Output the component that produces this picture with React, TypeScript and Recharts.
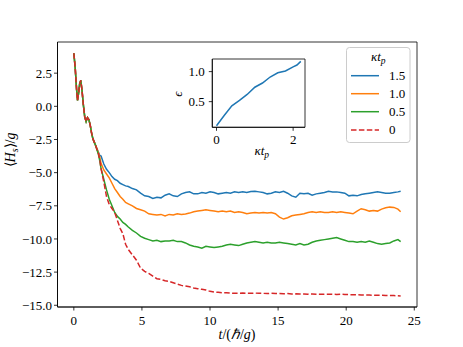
import React from 'react';
import { LineChart, Line, XAxis, YAxis, ReferenceArea } from 'recharts';

// ---------- data ----------
const TIME = [
  0, 0.1, 0.2, 0.27, 0.35, 0.43, 0.51, 0.6, 0.7, 0.8, 0.9, 1.0, 1.1, 1.2, 1.3, 1.4, 1.5, 1.6, 1.7, 1.8, 1.9,
  2.0, 2.2, 2.4, 2.6, 2.8, 3.0, 3.2, 3.4, 3.6, 3.8,
  4.0, 4.3, 4.6, 4.9, 5.2, 5.5, 5.8, 6.1, 6.4, 6.7,
  7.0, 7.3, 7.6, 7.9, 8.2, 8.5, 8.8, 9.1, 9.4, 9.7,
  10.0, 10.3, 10.6, 10.9, 11.2, 11.5, 11.8, 12.1, 12.4, 12.7,
  13.0, 13.3, 13.6, 13.9, 14.2, 14.5, 14.8, 15.1, 15.4, 15.7,
  16.0, 16.3, 16.6, 16.9, 17.2, 17.5, 17.8, 18.1, 18.4, 18.7,
  19.0, 19.3, 19.6, 19.9, 20.2, 20.5, 20.8, 21.1, 21.4, 21.7,
  22.0, 22.3, 22.6, 22.9, 23.2, 23.5, 23.8, 24.0,
];

const COMMON_START = [4.0, 2.9, 1.3, 0.45, 1.0, 1.7, 1.95, 1.2, 0.1, -0.8, -1.15, -0.85, -1.0, -1.4, -2.0, -2.45, -2.7, -2.95];

const BLUE = [
  ...COMMON_START, -3.2, -3.45, -3.7,
  -3.75, -4.35, -4.75, -5.0, -5.3, -5.5, -5.6, -5.8, -5.9, -6.0,
  -6.05, -6.2, -6.3, -6.55, -6.75, -6.8, -6.95, -6.85, -6.9, -6.7,
  -6.6, -6.75, -6.8, -6.6, -6.5, -6.45, -6.6, -6.6, -6.5, -6.55,
  -6.45, -6.5, -6.6, -6.55, -6.5, -6.55, -6.45, -6.5, -6.45, -6.5,
  -6.42, -6.4, -6.45, -6.5, -6.6, -6.55, -6.45, -6.5, -6.4, -6.55,
  -6.75, -6.85, -6.55, -6.6, -6.55, -6.7, -6.6, -6.55, -6.5, -6.4,
  -6.45, -6.45, -6.5, -6.55, -6.75, -6.7, -6.75, -6.65, -6.6, -6.55,
  -6.5, -6.45, -6.5, -6.55, -6.55, -6.5, -6.45, -6.4,
];

const ORANGE = [
  ...COMMON_START, -3.2, -3.5, -3.8,
  -4.3, -4.8, -5.1, -5.4, -5.8, -6.2, -6.5, -6.8, -7.0, -7.25,
  -7.35, -7.5, -7.7, -7.8, -7.9, -8.1, -8.15, -8.2, -8.15, -8.27,
  -8.15, -8.2, -8.1, -8.15, -8.12, -8.05, -7.95, -7.9, -7.85, -7.8,
  -7.85, -7.9, -7.95, -7.9, -7.95, -7.9, -8.0, -7.95, -8.0, -8.1,
  -8.05, -8.0, -8.05, -8.0, -8.05, -8.0, -8.1, -8.35, -8.5, -8.4,
  -8.25, -8.2, -8.15, -8.1, -8.0, -7.95, -8.0, -7.95, -8.0, -8.0,
  -7.95, -8.0, -7.95, -8.0, -8.05, -8.1, -7.9, -7.72, -7.8, -7.9,
  -7.85, -7.9, -7.75, -7.65, -7.6, -7.62, -7.75, -7.95,
];

const GREEN = [
  ...COMMON_START, -3.3, -3.6, -4.1,
  -4.7, -5.5, -6.3, -7.0, -7.5, -8.0, -8.3, -8.5, -8.75, -8.9,
  -9.1, -9.35, -9.55, -9.8, -9.95, -10.05, -10.15, -10.1, -10.2, -10.15,
  -10.15, -10.1, -10.2, -10.2, -10.3, -10.45, -10.55, -10.6, -10.7, -10.55,
  -10.6, -10.65, -10.6, -10.55, -10.45, -10.4, -10.45, -10.5, -10.4, -10.3,
  -10.25, -10.2, -10.25, -10.3, -10.25, -10.3, -10.3, -10.25, -10.3, -10.35,
  -10.4, -10.45, -10.35, -10.45, -10.4, -10.25, -10.15, -10.1, -10.05, -10.0,
  -9.95, -9.9, -10.0, -10.1, -10.2, -10.2, -10.25, -10.2, -10.25, -10.15,
  -10.25, -10.35, -10.4, -10.35, -10.3, -10.15, -10.05, -10.2,
];

const RED = [
  ...COMMON_START, -3.25, -3.55, -4.0,
  -4.7, -5.7, -6.8, -7.4, -7.7, -8.0, -8.6, -9.2, -9.6, -10.4,
  -10.8, -11.2, -11.6, -12.2, -12.45, -12.6, -12.8, -13.0, -13.05, -13.15,
  -13.2, -13.3, -13.4, -13.5, -13.55, -13.6, -13.7, -13.75, -13.8, -13.85,
  -13.95, -14.0, -14.02, -14.05, -14.05, -14.08, -14.1, -14.1, -14.08, -14.1,
  -14.1, -14.08, -14.1, -14.1, -14.12, -14.1, -14.12, -14.12, -14.14, -14.12,
  -14.15, -14.14, -14.15, -14.15, -14.16, -14.15, -14.16, -14.17, -14.16, -14.16,
  -14.17, -14.18, -14.16, -14.18, -14.2, -14.2, -14.21, -14.22, -14.23, -14.23,
  -14.24, -14.25, -14.25, -14.26, -14.27, -14.27, -14.28, -14.3,
];

const SERIES_LABELS = ['1.5', '1.0', '0.5', '0'];
const X_TICKS = [0, 5, 10, 15, 20, 25];
const Y_TICKS = [2.5, 0, -2.5, -5, -7.5, -10, -12.5, -15];

const INSET_KT = [0, 0.2, 0.4, 0.6, 0.8, 1.0, 1.2, 1.4, 1.6, 1.8, 2.0, 2.1, 2.2];
const INSET_EPS = [0.1, 0.27, 0.43, 0.52, 0.62, 0.74, 0.81, 0.91, 0.98, 1.01, 1.08, 1.11, 1.17];
const INSET_X_TICKS = [0, 2];
const INSET_Y_TICKS = [0.5, 1.0];

// ---------- styles ----------
const COLORS = ['#1f77b4', '#ff7f0e', '#2ca02c', '#d62728'];
const FONT = 'Liberation Serif';
const TICK = { fontFamily: FONT, fontSize: 13, fill: '#000' };
const DASH = '5.5 2.4';

function fmt1(v: number) {
  const s = Math.abs(v).toFixed(1);
  return v < 0 ? '\u2212' + s : s;
}

export default function App() {
  const data = TIME.map((t, i) => ({ t, b: BLUE[i], o: ORANGE[i], g: GREEN[i], r: RED[i] }));
  const inset = INSET_KT.map((k, i) => ({ k, e: INSET_EPS[i] }));
  const legendY = [75.7, 93.7, 111.7, 130];

  return (
    <div style={{ position: 'absolute', left: 0, top: 0, width: 463, height: 347, background: '#fff' }}>
      <LineChart width={463} height={347} data={data} margin={{ top: 42, right: 46, bottom: 0, left: 0 }}>
        <XAxis
          dataKey="t" type="number" domain={[-1.2, 25.2]} ticks={X_TICKS} interval={0}
          allowDataOverflow height={40} tickSize={3.5} tickMargin={5}
          axisLine={{ stroke: '#000', strokeWidth: 0.8 }} tickLine={{ stroke: '#000', strokeWidth: 0.8 }}
          tick={TICK} tickFormatter={(v: number) => String(v)}
        />
        <YAxis
          type="number" domain={[-15.13, 4.85]} ticks={Y_TICKS} interval={0}
          allowDataOverflow width={57.5} tickSize={3.5} tickMargin={2}
          axisLine={{ stroke: '#000', strokeWidth: 0.8 }} tickLine={{ stroke: '#000', strokeWidth: 0.8 }}
          tick={TICK} tickFormatter={fmt1}
        />
        <ReferenceArea x1={-1.2} x2={25.2} y1={-15.13} y2={4.85} fill="none" stroke="#000" strokeWidth={0.8} ifOverflow="visible" />
        <Line dataKey="b" stroke={COLORS[0]} strokeWidth={1.5} dot={false} isAnimationActive={false} />
        <Line dataKey="o" stroke={COLORS[1]} strokeWidth={1.5} dot={false} isAnimationActive={false} />
        <Line dataKey="g" stroke={COLORS[2]} strokeWidth={1.5} dot={false} isAnimationActive={false} />
        <Line dataKey="r" stroke={COLORS[3]} strokeWidth={1.5} strokeDasharray={DASH} dot={false} isAnimationActive={false} />
      </LineChart>

      <div style={{ position: 'absolute', left: 160, top: 45 }}>
        <LineChart width={160} height={120} data={inset} margin={{ top: 14, right: 15, bottom: 0, left: 0 }}>
          <XAxis
            dataKey="k" type="number" domain={[-0.11, 2.31]} ticks={INSET_X_TICKS} interval={0}
            allowDataOverflow height={37.7} tickSize={3.5} tickMargin={4}
            axisLine={{ stroke: '#000', strokeWidth: 0.8 }} tickLine={{ stroke: '#000', strokeWidth: 0.8 }}
            tick={TICK} tickFormatter={(v: number) => String(v)}
          />
          <YAxis
            type="number" domain={[0.073, 1.21]} ticks={INSET_Y_TICKS} interval={0}
            allowDataOverflow width={52.3} tickSize={3.5} tickMargin={4}
            axisLine={{ stroke: '#000', strokeWidth: 0.8 }} tickLine={{ stroke: '#000', strokeWidth: 0.8 }}
            tick={TICK} tickFormatter={fmt1}
          />
          <ReferenceArea x1={-0.11} x2={2.31} y1={0.073} y2={1.21} fill="#fff" fillOpacity={1} stroke="#000" strokeWidth={0.8} ifOverflow="visible" />
          <Line dataKey="e" stroke={COLORS[0]} strokeWidth={1.5} dot={false} isAnimationActive={false} />
        </LineChart>
      </div>

      <svg width={463} height={347} style={{ position: 'absolute', left: 0, top: 0, pointerEvents: 'none' }}>
        {/* main x label */}
        <text x={237} y={339} textAnchor="middle" fontFamily={FONT} fontSize={14} fill="#000">
          <tspan fontStyle="italic">t</tspan>/(<tspan fontStyle="italic">ℏ</tspan>/<tspan fontStyle="italic">g</tspan>)
        </text>
        {/* main y label */}
        <text transform="translate(15,150) rotate(-90)" textAnchor="middle" fontFamily={FONT} fontSize={14} fill="#000">
          ⟨<tspan fontStyle="italic">H</tspan><tspan fontStyle="italic" fontSize={10} dy={2.5}>s</tspan><tspan dy={-2.5}>⟩/</tspan><tspan fontStyle="italic">g</tspan>
        </text>
        {/* inset labels */}
        <text x={261.7} y={155} textAnchor="middle" fontFamily={FONT} fontSize={13} fill="#000">
          <tspan fontStyle="italic">κt</tspan><tspan fontStyle="italic" fontSize={9.5} dy={2.5}>p</tspan>
        </text>
        <text transform="translate(182,94) rotate(-90)" textAnchor="middle" fontFamily={FONT} fontSize={13} fontStyle="italic" fill="#000">ϵ</text>

        {/* legend */}
        <rect x={346.5} y={47.5} width={63.5} height={95} rx={3} ry={3} fill="#fff" fillOpacity={0.8} stroke="#cccccc" strokeWidth={1} />
        <text x={378.3} y={61} textAnchor="middle" fontFamily={FONT} fontSize={13} fill="#000">
          <tspan fontStyle="italic">κt</tspan><tspan fontStyle="italic" fontSize={9.5} dy={2.5}>p</tspan>
        </text>
        {SERIES_LABELS.map((lab, i) => (
          <g key={lab}>
            <line x1={351} x2={379} y1={legendY[i]} y2={legendY[i]} stroke={COLORS[i]} strokeWidth={1.5}
              strokeDasharray={i === 3 ? DASH : undefined} />
            <text x={389} y={legendY[i] + 4.3} fontFamily={FONT} fontSize={13} fill="#000">{lab}</text>
          </g>
        ))}
      </svg>
    </div>
  );
}
